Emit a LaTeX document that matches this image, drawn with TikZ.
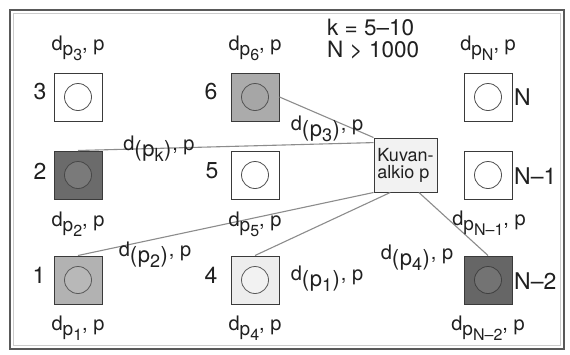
\documentclass[tikz,border=0pt]{standalone}
\usepackage{fontspec}
\setmainfont{TeX Gyre Heros}
\newcommand{\lo}[1]{\raisebox{-0.5ex}{\fontsize{19}{19}\selectfont #1}}
\newcommand{\llo}[1]{\raisebox{-0.45ex}{\fontsize{16}{16}\selectfont #1}}
\newcommand{\plo}[1]{\raisebox{-0.55ex}{\fontsize{22}{22}\selectfont(\kern0.5pt p\raisebox{-0.45ex}{\fontsize{18}{18}\selectfont #1}\kern0.5pt)}\kern1pt}
\definecolor{txt}{HTML}{202020}
\definecolor{edgec}{HTML}{3A3A3A}
\definecolor{linec}{HTML}{8C8C8C}
\tikzset{
  box/.style={draw=edgec, line width=1pt, minimum size=48pt, inner sep=0pt},
  ring/.style={circle, draw=edgec!90, line width=0.8pt, minimum size=27pt, inner sep=0pt},
  conn/.style={draw=linec, line width=1.1pt},
  lbl/.style={font=\fontsize{20}{20}\selectfont, text=txt, inner sep=0pt},
  num/.style={font=\fontsize{23}{23}\selectfont, text=txt, inner sep=0pt},
  kline/.style={font=\fontsize{22.5}{22.5}\selectfont, text=txt, anchor=base west, inner sep=0pt},
}
\begin{document}
\begin{tikzpicture}[x=1pt,y=-1pt]
\useasboundingbox (0,0) rectangle (570,354);
\fill[white] (0,0) rectangle (570,354);
% frame
\draw[black!65, line width=1.5pt] (10,10) rectangle (564,349);
\draw[black!20, line width=0.6pt] (13.5,13.5) rectangle (560.5,345.5);

% boxes
\node[box, fill=white] (b3) at (78,97) {};
\node[ring, fill=white] (c3) at (78,97) {};
\node[box, fill=black!58] (b2) at (78,175) {};
\node[ring, fill=black!52, draw=black!72] (c2) at (78,175) {};
\node[box, fill=black!30] (b1) at (78,280) {};
\node[ring, fill=black!28, draw=black!65] (c1) at (78,280) {};

\node[box, fill=black!33] (b6) at (255,97) {};
\node[ring, fill=black!35, draw=black!68] (c6) at (255,97) {};
\node[box, fill=white] (b5) at (255,175) {};
\node[ring, fill=white] (c5) at (255,175) {};
\node[box, fill=black!7] (b4) at (255,280) {};
\node[ring, fill=black!5, draw=black!65] (c4) at (255,280) {};

\node[box, fill=white] (bN) at (488,97) {};
\node[ring, fill=white] (cN) at (488,97) {};
\node[box, fill=white] (bN1) at (488,175) {};
\node[ring, fill=white] (cN1) at (488,175) {};
\node[box, fill=black!60] (bN2) at (488,280) {};
\node[ring, fill=black!55, draw=black!75] (cN2) at (488,280) {};

% central pixel
\node[draw=edgec, line width=1pt, fill=black!5, minimum width=63pt, minimum height=54pt, inner sep=0pt,
      align=left, font=\fontsize{18}{17}\selectfont, text=txt] (kv) at (405.5,165) {Kuvan-\\alkio p};

% connectors
\draw[conn] (b6.east) -- (kv.north west);
\draw[conn] (b2.north) -- (kv.145);
\draw[conn] (b1.north) -- (kv.south west);
\draw[conn] (b4.north) -- (kv.241);
\draw[conn] (kv.296) -- (bN2.north);

% side numbers
\node[num] (n3) at (40,92) {3};
\node[num] (n2) at (40,171) {2};
\node[num] (n1) at (39,275) {1};
\node[num] (n6) at (211,92) {6};
\node[num] (n5) at (212,171) {5};
\node[num] (n4) at (211,275) {4};
\node[num, anchor=west] (nN) at (514,97) {N};
\node[num, anchor=west] (nN1) at (514,176) {N–1};
\node[num, anchor=west] (nN2) at (514,281) {N–2};

% k, N
\node[kline] (kk) at (327,35.5) {k = 5–10};
\node[kline] (nn) at (327,57.5) {N > 1000};

% distance labels
\node[lbl] (l3) at (78,48) {d\lo{p\llo{3}}, p};
\node[lbl] (l6) at (255,48) {d\lo{p\llo{6}}, p};
\node[lbl] (lN) at (488,48) {d\lo{p\llo{N}}, p};
\node[lbl] (l2) at (78,224) {d\lo{p\llo{2}}, p};
\node[lbl] (l5) at (255,224) {d\lo{p\llo{5}}, p};
\node[lbl] (lN1) at (489,223) {d\lo{p\llo{N–1}}, p};
\node[lbl] (l1) at (78,328) {d\lo{p\llo{1}}, p};
\node[lbl] (l4) at (255,328) {d\lo{p\llo{4}}, p};
\node[lbl] (lN2) at (488,328) {d\lo{p\llo{N–2}}, p};

\node[lbl] (dk) at (159,149) {d\plo{k}, p};
\node[lbl] (d3) at (327,129) {d\plo{3}, p};
\node[lbl] (d2) at (155,255) {d\plo{2}, p};
\node[lbl] (d1) at (327,279) {d\plo{1}, p};
\node[lbl] (d4) at (417,258) {d\plo{4}, p};
\end{tikzpicture}
\end{document}
